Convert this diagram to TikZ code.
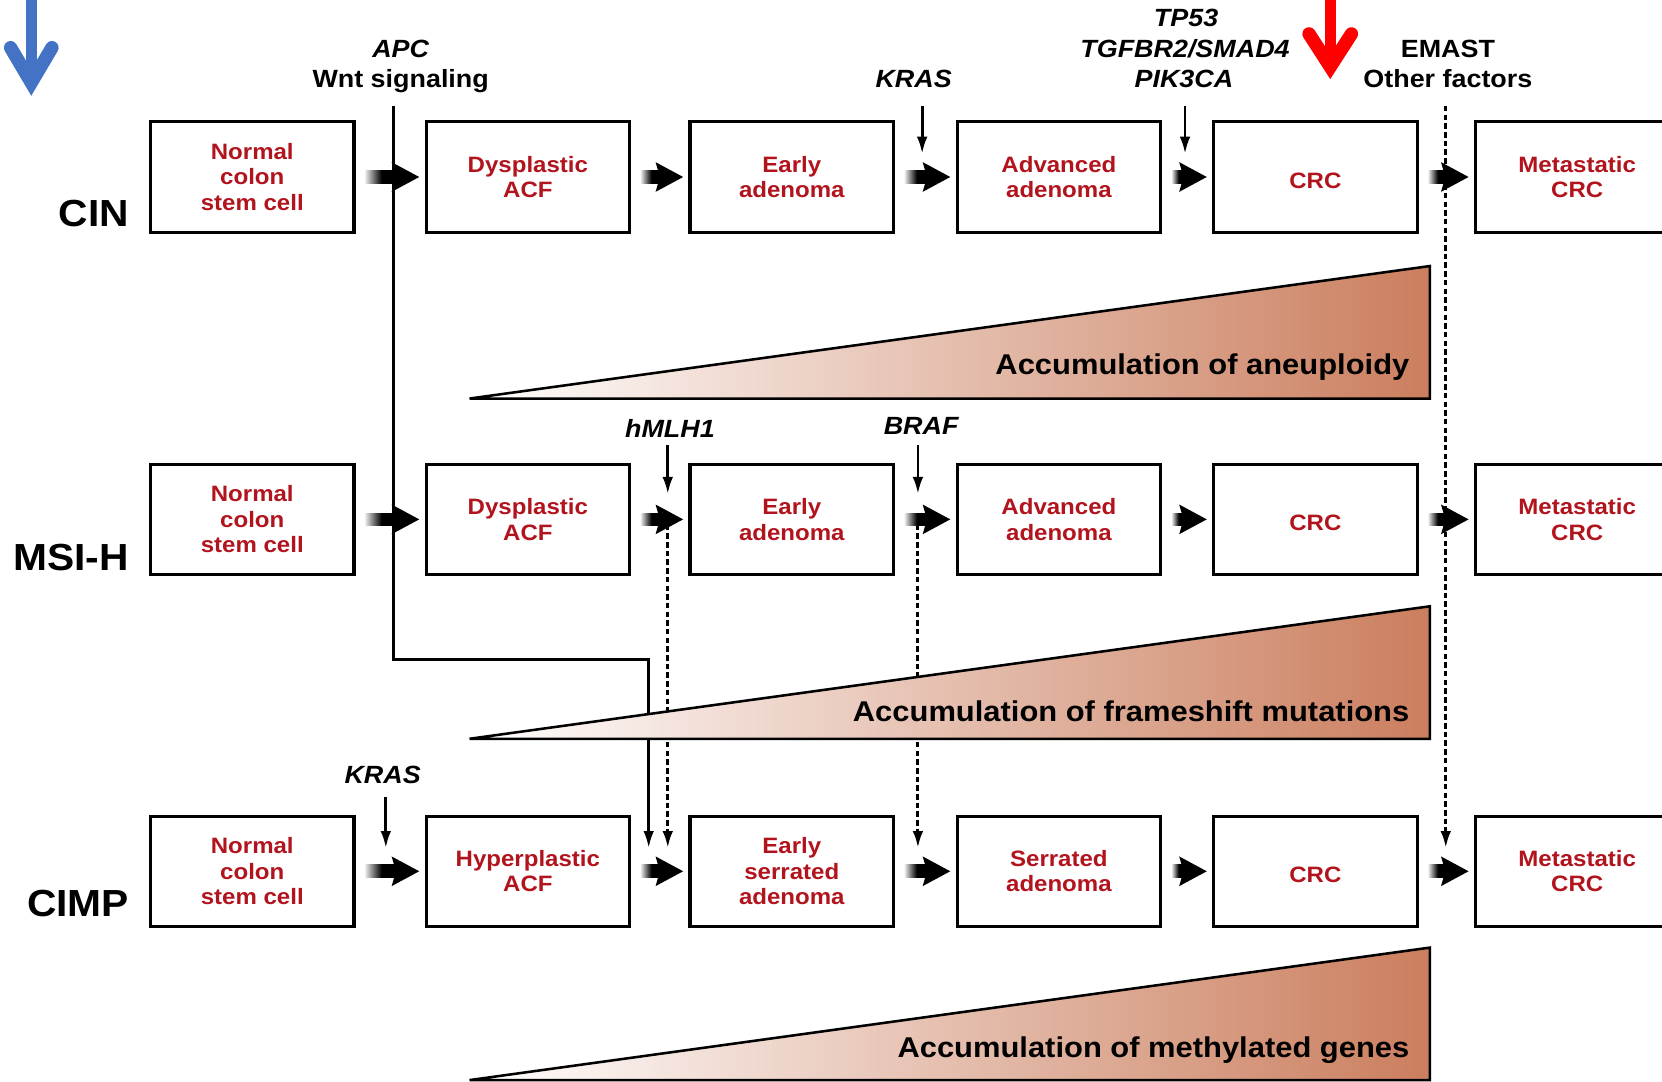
\documentclass[tikz,border=0pt]{standalone}
\usepackage{fontspec}
\setmainfont{Liberation Sans}[FakeStretch=1.08]
\usetikzlibrary{calc,arrows.meta}
\definecolor{boxred}{RGB}{178,20,30}
\definecolor{tricol}{RGB}{203,126,94}
\definecolor{myblue}{RGB}{68,114,196}
\definecolor{myred}{RGB}{255,0,0}
\tikzset{
 stage/.style={draw=black, line width=1.5pt, minimum width=96pt, minimum height=52pt, inner sep=0pt, align=center, text=boxred, font=\fontsize{10.5}{12}\selectfont\bfseries},
 lowtext/.style={execute at begin node={\rule{0pt}{10.8pt}}},
 lowmulti/.style={execute at begin node={\vspace*{3.6pt}}},
 gene/.style={font=\fontsize{11.75}{14.5}\selectfont\bfseries\itshape, text=black, inner sep=0pt, anchor=base},
 factor/.style={font=\fontsize{11.75}{14.5}\selectfont\bfseries, text=black, inner sep=0pt, anchor=base},
 rowlab/.style={font=\fontsize{17.8}{20}\selectfont\bfseries, text=black, inner sep=0pt, anchor=base east},
 acclab/.style={font=\fontsize{13.5}{16}\selectfont\bfseries, text=black, inner sep=0pt, anchor=base east},
 thinarrow/.style={line width=1.3pt, -{Latex[length=8pt,width=5pt]}},
 dasharrow/.style={line width=1.4pt, dash pattern=on 2.6pt off 1.5pt, -{Latex[length=8pt,width=5pt]}},
 wedge/.style={draw=black, line width=1.2pt, line join=miter, left color=white, right color=tricol},
 bigarrow/.style={line width=5pt},
 bighead/.style={line width=6.3pt, line cap=round, line join=miter},
}
\newcommand\fatarrow[2]{%
  \coordinate (fa-s) at ($(#1.east)+(9,0)$);
  \coordinate (fa-t) at ($(#2.west)+(-5,0)$);
  \shade[left color=black!8, right color=black, middle color=black] ($(fa-s)+(0,-6)$) rectangle ($(fa-t)+(-20,6)$);
  \fill[black] (fa-t) -- ++(-26,-14) -- ++(4,14) -- ++(-4,14) -- cycle;
}
\begin{document}
\begin{tikzpicture}[x=0.5pt,y=-0.5pt]
\useasboundingbox (0,0) rectangle (1568,1020);

% decorative arrows
\draw[myblue, bigarrow] (29.5,0) -- (29.5,72);
\draw[myblue, bighead] (10,45) -- (29.5,78) -- (49,45);
\draw[myred, bigarrow] (1255,0) -- (1255,58);
\draw[myred, bighead] (1235,32) -- (1255,63) -- (1275,32);

% row labels
\node[rowlab] (cin) at (122,214) {CIN};
\node[rowlab] (msi) at (122,538) {MSI-H};
\node[rowlab] (cimp) at (122,865) {CIMP};

% factor labels
\node[gene] (apc) at (378,54) {APC};
\node[factor] (wnt) at (378,83) {Wnt signaling};
\node[gene] (kras1) at (862,83) {KRAS};
\node[gene] (tp53) at (1119,25) {TP53};
\node[gene] (tgfb) at (1118,54) {TGFBR2/SMAD4};
\node[gene] (pik) at (1117,83) {PIK3CA};
\node[factor] (emast) at (1366,54) {EMAST};
\node[factor] (other) at (1366,83) {Other factors};
\node[gene] (mlh) at (632,413) {hMLH1};
\node[gene] (braf) at (869,410) {BRAF};
\node[gene] (kras3) at (361,739) {KRAS};

% connector end points
\coordinate (apcTop) at (371,100);
\coordinate (apcTip) at (612,800);
\coordinate (k1Top) at (870,100);
\coordinate (k1Tip) at (870,145);
\coordinate (tpTop) at (1118,100);
\coordinate (tpTip) at (1118,145);
\coordinate (emTop) at (1364,100);
\coordinate (emTip) at (1364,800);
\coordinate (mlTop) at (630,420);
\coordinate (mlTip) at (630,466);
\coordinate (mlDs) at (630,495);
\coordinate (mlDt) at (630,800);
\coordinate (brTop) at (866,420);
\coordinate (brTip) at (866,466);
\coordinate (brDs) at (866,495);
\coordinate (brDt) at (866,800);
\coordinate (k3Top) at (364,752);
\coordinate (k3Tip) at (364,800);

% thin connectors
\draw[thinarrow] (apcTop) -- ++(0,522) -| (apcTip);
\draw[thinarrow] (k1Top) -- (k1Tip);
\draw[thinarrow] (tpTop) -- (tpTip);
\draw[dasharrow] (emTop) -- (emTip);
\draw[thinarrow] (mlTop) -- (mlTip);
\draw[dasharrow] (mlDs) -- (mlDt);
\draw[thinarrow] (brTop) -- (brTip);
\draw[dasharrow] (brDs) -- (brDt);
\draw[thinarrow] (k3Top) -- (k3Tip);

% accumulation wedges
\draw[wedge] (443,376) -- (1349,376) -- (1349,251) -- cycle;
\draw[wedge] (443,697) -- (1349,697) -- (1349,572) -- cycle;
\draw[wedge] (443,1019) -- (1349,1019) -- (1349,894) -- cycle;
\node[acclab] (acc1) at (1330,353) {Accumulation of aneuploidy};
\node[acclab] (acc2) at (1330,681) {Accumulation of frameshift mutations};
\node[acclab] (acc3) at (1330,998) {Accumulation of methylated genes};

% CIN row
\node[stage] (a1) at (238,167) {Normal\\colon\\stem cell};
\node[stage, lowmulti] (a2) at (498,167) {Dysplastic\\ACF};
\node[stage, lowmulti] (a3) at (747,167) {Early\\adenoma};
\node[stage, lowmulti] (a4) at (999,167) {Advanced\\adenoma};
\node[stage, lowtext] (a5) at (1241,167) {CRC};
\node[stage, lowmulti] (a6) at (1488,167) {Metastatic\\CRC};
% MSI-H row
\node[stage] (b1) at (238,490) {Normal\\colon\\stem cell};
\node[stage, lowmulti] (b2) at (498,490) {Dysplastic\\ACF};
\node[stage, lowmulti] (b3) at (747,490) {Early\\adenoma};
\node[stage, lowmulti] (b4) at (999,490) {Advanced\\adenoma};
\node[stage, lowtext] (b5) at (1241,490) {CRC};
\node[stage, lowmulti] (b6) at (1488,490) {Metastatic\\CRC};
% CIMP row
\node[stage] (c1) at (238,822) {Normal\\colon\\stem cell};
\node[stage, lowmulti] (c2) at (498,822) {Hyperplastic\\ACF};
\node[stage, lowmulti] (c3) at (747,822) {Early\\serrated\\adenoma};
\node[stage, lowmulti] (c4) at (999,822) {Serrated\\adenoma};
\node[stage, lowtext] (c5) at (1241,822) {CRC};
\node[stage] (c6) at (1488,822) {Metastatic\\CRC};

% fat arrows
\fatarrow{a1}{a2}\fatarrow{a2}{a3}\fatarrow{a3}{a4}\fatarrow{a4}{a5}\fatarrow{a5}{a6}
\fatarrow{b1}{b2}\fatarrow{b2}{b3}\fatarrow{b3}{b4}\fatarrow{b4}{b5}\fatarrow{b5}{b6}
\fatarrow{c1}{c2}\fatarrow{c2}{c3}\fatarrow{c3}{c4}\fatarrow{c4}{c5}\fatarrow{c5}{c6}
\end{tikzpicture}
\end{document}
